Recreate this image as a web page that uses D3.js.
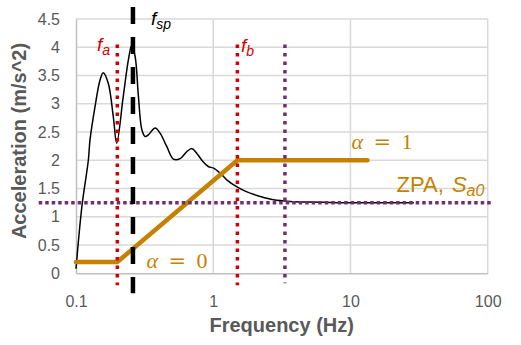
<!DOCTYPE html>
<html>
<head>
<meta charset="utf-8">
<script src="https://cdn.jsdelivr.net/npm/d3@7"></script>
<style>
  html, body { margin: 0; padding: 0; background: #fff; }
  svg { display: block; }
</style>
</head>
<body>
<svg id="chart" width="521" height="345"></svg>
<script>
// Response spectrum (frequency in Hz, acceleration in m/s^2)
const specFreq  = [0.1, 0.1106, 0.123, 0.1265, 0.1376, 0.1497, 0.158, 0.172, 0.187, 0.198, 0.221, 0.241, 0.255, 0.27, 0.285, 0.302, 0.319, 0.337, 0.377, 0.41, 0.459, 0.513, 0.574, 0.64, 0.699, 0.76, 0.84, 0.92, 1.005, 1.125, 1.26, 1.49, 1.76, 2.2, 2.75, 3.65, 4.83, 8, 15, 29];
const specAccel = [0.08, 1.2, 2.0, 2.36, 2.95, 3.42, 3.55, 3.36, 2.77, 2.3, 3.13, 3.78, 4.04, 3.83, 3.13, 2.54, 2.42, 2.45, 2.57, 2.48, 2.24, 2.02, 2.03, 2.15, 2.21, 2.12, 1.98, 1.89, 1.86, 1.77, 1.65, 1.53, 1.44, 1.36, 1.30, 1.27, 1.26, 1.25, 1.25, 1.25];

// Piecewise design line between alpha = 0 and alpha = 1
const designFreq  = [0.1, 0.2, 1.5, 13.3];
const designAccel = [0.2, 0.2, 2.0, 2.0];

// Reference frequencies and the zero-period acceleration
const fA = 0.2, fSp = 0.26, fB = 1.5, fZpa = 3.33;
const zpa = 1.25;

const xTicks = [0.1, 1, 10, 100];
const xTickLabels = ["0.1", "1", "10", "100"];
const yTicks = [0, 0.5, 1, 1.5, 2, 2.5, 3, 3.5, 4, 4.5];
const yTickLabels = ["0", "0.5", "1", "1.5", "2", "2.5", "3", "3.5", "4", "4.5"];

const svg = d3.select("#chart");
const margin = { left: 76, top: 19, right: 33.3, bottom: 71.7 };
const W = 521 - margin.left - margin.right;
const H = 345 - margin.top - margin.bottom;

const x = d3.scaleLog().domain([0.1, 100]).range([0, W]);
const y = d3.scaleLinear().domain([0, 4.5]).range([H, 0]);

const g = svg.append("g").attr("transform", `translate(${margin.left},${margin.top})`);

const gridColor = "#d9d9d9";
const textColor = "#595959";
const orange = "#c58200";
const red = "#d00000";
const purple = "#70306e";

// Horizontal gridlines
g.append("g").selectAll("line").data(yTicks.slice(1)).join("line")
  .attr("x1", 0).attr("x2", W)
  .attr("y1", d => y(d)).attr("y2", d => y(d))
  .attr("stroke", gridColor).attr("stroke-width", 1.5);

// Vertical gridlines
g.append("g").selectAll("line").data(xTicks.slice(1)).join("line")
  .attr("x1", d => x(d)).attr("x2", d => x(d))
  .attr("y1", 0).attr("y2", H)
  .attr("stroke", gridColor).attr("stroke-width", 1.5);

// Axes
const xAxis = d3.axisBottom(x).tickValues(xTicks)
  .tickFormat((d, i) => xTickLabels[i]).tickSize(0).tickPadding(22);
const gx = g.append("g").attr("transform", `translate(0,${H})`).call(xAxis);
gx.select(".domain").attr("stroke", "#bfbfbf").attr("stroke-width", 1.5);
gx.selectAll("text").attr("fill", textColor)
  .style("font-family", "'Liberation Sans', Arial, sans-serif").style("font-size", "16px");

const yAxis = d3.axisLeft(y).tickValues(yTicks)
  .tickFormat((d, i) => yTickLabels[i]).tickSize(0).tickPadding(16);
const gy = g.append("g").call(yAxis);
gy.select(".domain").attr("stroke", "#bfbfbf").attr("stroke-width", 1.5);
gy.selectAll("text").attr("fill", textColor)
  .style("font-family", "'Liberation Sans', Arial, sans-serif").style("font-size", "16px");

// Axis titles
svg.append("text")
  .attr("x", 281.7).attr("y", 331.5)
  .attr("text-anchor", "middle")
  .attr("fill", textColor)
  .style("font-family", "'Liberation Sans', Arial, sans-serif")
  .style("font-size", "20px").style("font-weight", "bold")
  .text("Frequency (Hz)");

svg.append("text")
  .attr("transform", "translate(26,141) rotate(-90)")
  .attr("text-anchor", "middle")
  .attr("fill", textColor)
  .style("font-family", "'Liberation Sans', Arial, sans-serif")
  .style("font-size", "20px").style("font-weight", "bold")
  .text("Acceleration (m/s^2)");

// Spectrum curve
const line = d3.line()
  .x((d, i) => x(specFreq[i]))
  .y(d => y(d))
  .curve(d3.curveCatmullRom.alpha(0.5));
g.append("path")
  .attr("d", line(specAccel))
  .attr("fill", "none")
  .attr("stroke", "#000")
  .attr("stroke-width", 1.5);

// Design line
const dLine = d3.line()
  .x((d, i) => x(designFreq[i]))
  .y(d => y(d));
g.append("path")
  .attr("d", dLine(designAccel))
  .attr("fill", "none")
  .attr("stroke", orange)
  .attr("stroke-width", 4.5)
  .attr("stroke-linecap", "round")
  .attr("stroke-linejoin", "round");

// Dotted reference lines
const markTop = y(4.05);
const markBottom = H + 12;

g.append("line")
  .attr("x1", -37.3).attr("x2", W + 4)
  .attr("y1", y(zpa)).attr("y2", y(zpa))
  .attr("stroke", purple).attr("stroke-width", 3.5)
  .attr("stroke-dasharray", "3.5,3");

g.append("line")
  .attr("x1", x(fZpa)).attr("x2", x(fZpa))
  .attr("y1", markTop).attr("y2", markBottom - 2)
  .attr("stroke", purple).attr("stroke-width", 3.5)
  .attr("stroke-dasharray", "3.5,5");

g.selectAll(".fmark").data([fA, fB]).join("line")
  .attr("class", "fmark")
  .attr("x1", d => x(d)).attr("x2", d => x(d))
  .attr("y1", markTop).attr("y2", markBottom)
  .attr("stroke", red).attr("stroke-width", 3.5)
  .attr("stroke-dasharray", "3.5,5");

// Dashed line at the dominant frequency
g.append("line")
  .attr("x1", x(fSp)).attr("x2", x(fSp))
  .attr("y1", -12).attr("y2", H + 20)
  .attr("stroke", "#000").attr("stroke-width", 4.5)
  .attr("stroke-dasharray", "17,13");

// Labels
const sans = "'Liberation Sans', Arial, sans-serif";
const serif = "'Liberation Serif', 'Times New Roman', serif";

function fLabel(px, py, sub, color) {
  const t = svg.append("text")
    .attr("x", px).attr("y", py)
    .attr("fill", color)
    .style("font-family", sans).style("font-style", "italic")
    .style("font-size", "19px");
  t.append("tspan").text("f");
  t.append("tspan").attr("dy", 4).style("font-size", "14px").text(sub);
}
fLabel(97, 51, "a", red);
fLabel(151, 25, "sp", "#000");
fLabel(241, 52, "b", red);

function alphaLabel(px, py, val) {
  const t = svg.append("text")
    .attr("y", py)
    .attr("fill", orange)
    .style("font-family", serif)
    .style("font-size", "22px");
  t.append("tspan").attr("x", px).style("font-style", "italic").text("α");
  t.append("tspan").attr("x", px + 22).style("font-family", "'DejaVu Serif', serif")
    .style("font-size", "21px").text("=");
  t.append("tspan").attr("x", px + 50).text(val);
}
alphaLabel(351.5, 148.5, "1");
alphaLabel(146.5, 267.5, "0");

const zt = svg.append("text")
  .attr("x", 396.5).attr("y", 191.5)
  .attr("fill", orange)
  .style("font-family", sans)
  .style("font-size", "22px");
zt.append("tspan").text("ZPA, ");
zt.append("tspan").attr("dx", 2).style("font-style", "italic").text("S");
zt.append("tspan").attr("dy", 4).style("font-style", "italic").style("font-size", "16px").text("a0");
</script>
</body>
</html>
